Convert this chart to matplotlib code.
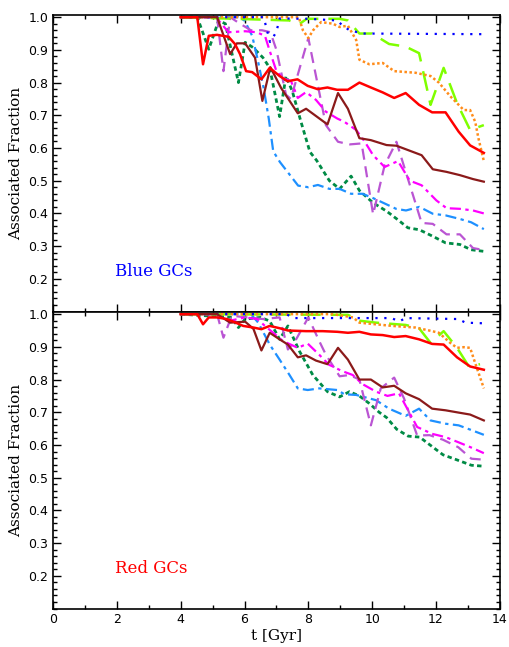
import numpy as np
import matplotlib.pyplot as plt
from matplotlib.ticker import MultipleLocator

# ---- blue GCs (top panel) ----
t_red_b = [4.0, 4.52, 4.7, 4.88, 5.14, 5.5, 5.7, 5.86, 6.05, 6.24, 6.53, 6.79, 7.1, 7.35, 7.66, 7.98, 8.29, 8.6, 8.9, 9.24, 9.6, 9.96, 10.33, 10.69, 11.05, 11.47, 11.88, 12.3, 12.71, 13.07, 13.5]
f_red_b = [1.0, 1.0, 0.856, 0.943, 0.946, 0.94, 0.918, 0.887, 0.835, 0.832, 0.81, 0.845, 0.82, 0.804, 0.81, 0.79, 0.78, 0.785, 0.778, 0.778, 0.80, 0.785, 0.77, 0.753, 0.768, 0.732, 0.709, 0.709, 0.65, 0.608, 0.585]

t_brown_b = [4.0, 5.14, 5.55, 5.76, 6.02, 6.33, 6.56, 6.81, 7.15, 7.67, 7.93, 8.6, 8.93, 9.24, 9.6, 9.96, 10.45, 10.76, 11.55, 11.9, 12.33, 12.75, 13.16, 13.5]
f_brown_b = [1.0, 1.0, 0.887, 0.92, 0.92, 0.876, 0.744, 0.847, 0.783, 0.706, 0.72, 0.672, 0.768, 0.72, 0.63, 0.624, 0.609, 0.607, 0.578, 0.535, 0.527, 0.517, 0.505, 0.497]

t_blue_b = [4.0, 6.6, 6.8, 7.0, 7.1, 8.0, 8.9, 9.08, 9.29, 9.7, 13.5]
f_blue_b = [1.0, 1.0, 0.924, 0.955, 0.996, 0.995, 0.99, 0.974, 0.96, 0.95, 0.948]

t_orange_b = [4.0, 7.7, 7.83, 8.0, 8.15, 8.4, 8.77, 8.98, 9.24, 9.5, 9.6, 9.91, 10.33, 10.69, 11.36, 11.83, 12.09, 12.45, 12.87, 13.07, 13.23, 13.33, 13.5]
f_orange_b = [1.0, 1.0, 0.96, 0.936, 0.96, 0.985, 0.98, 0.97, 0.974, 0.93, 0.87, 0.856, 0.86, 0.835, 0.83, 0.82, 0.80, 0.758, 0.716, 0.716, 0.68, 0.63, 0.56]

t_green_b = [4.0, 7.4, 7.72, 7.95, 8.5, 8.98, 9.24, 9.6, 10.0, 10.53, 11.05, 11.47, 11.83, 12.24, 12.66, 13.07, 13.5]
f_green_b = [1.0, 0.99, 0.979, 0.995, 0.995, 0.995, 0.99, 0.95, 0.95, 0.918, 0.91, 0.89, 0.732, 0.845, 0.737, 0.655, 0.67]

t_magenta_b = [4.0, 5.1, 5.5, 6.02, 6.38, 6.64, 6.79, 7.0, 7.2, 7.46, 7.67, 7.93, 8.24, 8.55, 8.91, 9.13, 9.5, 9.77, 10.03, 10.39, 10.81, 11.18, 11.55, 12.01, 12.33, 12.75, 13.16, 13.5]
f_magenta_b = [1.0, 1.0, 0.954, 0.957, 0.954, 0.943, 0.897, 0.835, 0.814, 0.804, 0.753, 0.771, 0.747, 0.711, 0.69, 0.68, 0.655, 0.619, 0.578, 0.542, 0.56, 0.5, 0.486, 0.44, 0.416, 0.414, 0.409, 0.40]

t_orchid_b = [4.0, 5.14, 5.34, 5.55, 5.86, 6.2, 6.55, 6.81, 7.0, 7.3, 7.45, 8.0, 8.55, 8.93, 9.3, 9.67, 10.03, 10.39, 10.76, 11.55, 11.9, 12.33, 12.75, 13.16, 13.5]
f_orchid_b = [1.0, 1.0, 0.835, 1.0, 0.98, 0.96, 0.96, 0.954, 0.90, 0.763, 0.75, 0.936, 0.67, 0.619, 0.611, 0.614, 0.397, 0.547, 0.619, 0.371, 0.368, 0.336, 0.336, 0.294, 0.288]

t_dodger_b = [4.0, 5.8, 6.0, 6.24, 6.4, 6.6, 6.76, 6.9, 7.11, 7.68, 8.0, 8.3, 8.66, 8.98, 9.34, 9.7, 10.07, 10.75, 11.06, 11.48, 11.9, 12.3, 12.75, 13.1, 13.5]
f_dodger_b = [1.0, 1.0, 0.99, 0.943, 0.876, 0.783, 0.69, 0.59, 0.557, 0.485, 0.48, 0.487, 0.475, 0.475, 0.46, 0.46, 0.445, 0.414, 0.409, 0.42, 0.399, 0.394, 0.383, 0.373, 0.352]

t_sea_b = [4.0, 4.52, 4.88, 5.19, 5.4, 5.81, 6.02, 6.27, 6.58, 6.79, 7.1, 7.3, 7.5, 7.77, 8.05, 8.26, 8.66, 8.98, 9.34, 9.6, 10.02, 10.45, 10.8, 11.12, 11.48, 11.9, 12.3, 12.75, 13.1, 13.5]
f_sea_b = [1.0, 1.0, 0.902, 0.99, 0.98, 0.80, 0.923, 0.907, 0.876, 0.845, 0.696, 0.82, 0.773, 0.68, 0.588, 0.562, 0.50, 0.475, 0.514, 0.47, 0.433, 0.407, 0.381, 0.356, 0.35, 0.33, 0.31, 0.305, 0.289, 0.284]

# ---- red GCs (bottom panel) ----
t_red_r = [4.0, 4.52, 4.7, 4.88, 5.14, 5.45, 5.7, 5.96, 6.28, 6.53, 6.79, 7.1, 7.36, 7.93, 8.45, 8.91, 9.24, 9.6, 9.96, 10.33, 10.69, 11.05, 11.47, 11.88, 12.24, 12.66, 13.07, 13.5]
f_red_r = [1.0, 1.0, 0.969, 0.99, 0.99, 0.985, 0.975, 0.964, 0.959, 0.954, 0.964, 0.957, 0.95, 0.948, 0.948, 0.946, 0.943, 0.946, 0.938, 0.936, 0.93, 0.933, 0.923, 0.909, 0.907, 0.868, 0.84, 0.83]

t_brown_r = [4.0, 5.14, 5.55, 6.02, 6.28, 6.53, 6.79, 7.1, 7.36, 7.67, 7.93, 8.24, 8.6, 8.93, 9.24, 9.6, 9.96, 10.33, 10.69, 11.05, 11.47, 11.88, 12.3, 12.71, 13.07, 13.5]
f_brown_r = [1.0, 1.0, 0.974, 0.977, 0.955, 0.889, 0.943, 0.923, 0.907, 0.868, 0.874, 0.858, 0.847, 0.897, 0.861, 0.8, 0.8, 0.776, 0.781, 0.758, 0.74, 0.711, 0.706, 0.699, 0.693, 0.675]

t_blue_r = [4.0, 7.3, 7.57, 8.98, 10.6, 10.85, 11.05, 12.71, 12.92, 13.5]
f_blue_r = [1.0, 1.0, 0.988, 0.988, 0.988, 0.978, 0.988, 0.985, 0.974, 0.972]

t_orange_r = [4.0, 8.77, 9.4, 9.6, 10.0, 10.64, 11.36, 11.88, 12.09, 12.45, 12.66, 12.87, 13.07, 13.23, 13.5]
f_orange_r = [1.0, 1.0, 0.99, 0.974, 0.97, 0.964, 0.959, 0.948, 0.943, 0.912, 0.897, 0.899, 0.897, 0.85, 0.773]

t_green_r = [4.0, 9.24, 9.6, 10.12, 11.05, 11.47, 11.83, 12.24, 12.66, 13.03, 13.38]
f_green_r = [1.0, 0.998, 0.98, 0.974, 0.967, 0.957, 0.912, 0.948, 0.897, 0.84, 0.847]

t_magenta_r = [4.0, 5.1, 5.5, 6.02, 6.4, 6.64, 6.9, 7.2, 7.67, 7.98, 8.34, 8.65, 8.77, 9.03, 9.39, 9.7, 10.12, 10.48, 10.84, 11.1, 11.41, 11.88, 12.3, 12.71, 13.11, 13.5]
f_magenta_r = [1.0, 1.0, 0.979, 0.99, 0.985, 0.964, 0.943, 0.918, 0.897, 0.91, 0.876, 0.845, 0.84, 0.827, 0.814, 0.786, 0.763, 0.75, 0.758, 0.711, 0.655, 0.634, 0.624, 0.608, 0.592, 0.575]

t_orchid_r = [4.0, 5.14, 5.34, 5.6, 6.58, 7.1, 7.36, 7.6, 8.0, 8.34, 8.55, 8.98, 9.29, 9.6, 9.96, 10.27, 10.69, 11.0, 11.41, 11.8, 12.22, 12.7, 13.11, 13.5]
f_orchid_r = [1.0, 1.0, 0.928, 0.995, 0.985, 0.99, 0.892, 0.92, 0.99, 0.918, 0.876, 0.81, 0.814, 0.8, 0.66, 0.773, 0.806, 0.742, 0.629, 0.63, 0.616, 0.593, 0.558, 0.555]

t_dodger_r = [4.0, 6.2, 6.43, 6.79, 7.1, 7.41, 7.67, 7.98, 8.34, 8.91, 9.13, 9.5, 10.12, 10.53, 11.05, 11.47, 11.83, 12.3, 12.71, 13.07, 13.5]
f_dodger_r = [1.0, 1.0, 0.974, 0.907, 0.861, 0.814, 0.773, 0.768, 0.773, 0.768, 0.755, 0.753, 0.737, 0.711, 0.689, 0.711, 0.675, 0.665, 0.66, 0.647, 0.631]

t_sea_r = [4.0, 5.6, 5.81, 6.02, 6.5, 6.79, 7.1, 7.36, 7.72, 8.14, 8.6, 8.98, 9.29, 9.6, 9.91, 10.22, 10.45, 10.77, 11.13, 11.49, 11.8, 12.22, 12.64, 13.11, 13.5]
f_sea_r = [1.0, 0.99, 0.959, 0.985, 0.99, 0.979, 0.923, 0.964, 0.887, 0.814, 0.763, 0.747, 0.763, 0.75, 0.727, 0.70, 0.684, 0.648, 0.627, 0.624, 0.601, 0.57, 0.555, 0.538, 0.535]

# colour and line style for each series
styles = {
    'sea':     ('#008B45', (0, (1.6, 1.2)), 2.0),
    'dodger':  ('#1E90FF', (0, (5, 2, 1.5, 2)), 1.6),
    'orchid':  ('#BA55D3', (0, (5, 3)), 1.6),
    'magenta': ('#FF00FF', (0, (5, 2, 1.5, 2)), 1.6),
    'green':   ('#7FFF00', (0, (8, 4)), 1.8),
    'orange':  ('#FF8C1A', (0, (1, 1)), 1.8),
    'blue':    ('#0000FF', (0, (1, 3)), 1.6),
    'brown':   ('#8B1A1A', '-', 1.6),
    'red':     ('#FF0000', '-', 1.8),
}

blue_panel = {
    'sea': (t_sea_b, f_sea_b), 'dodger': (t_dodger_b, f_dodger_b),
    'orchid': (t_orchid_b, f_orchid_b), 'magenta': (t_magenta_b, f_magenta_b),
    'green': (t_green_b, f_green_b), 'orange': (t_orange_b, f_orange_b),
    'blue': (t_blue_b, f_blue_b), 'brown': (t_brown_b, f_brown_b),
    'red': (t_red_b, f_red_b),
}
red_panel = {
    'sea': (t_sea_r, f_sea_r), 'dodger': (t_dodger_r, f_dodger_r),
    'orchid': (t_orchid_r, f_orchid_r), 'magenta': (t_magenta_r, f_magenta_r),
    'green': (t_green_r, f_green_r), 'orange': (t_orange_r, f_orange_r),
    'blue': (t_blue_r, f_blue_r), 'brown': (t_brown_r, f_brown_r),
    'red': (t_red_r, f_red_r),
}

fig = plt.figure(figsize=(5.1, 6.47), dpi=100)
ax1 = fig.add_axes([0.104, 0.5185, 0.876, 0.459])
ax2 = fig.add_axes([0.104, 0.0595, 0.876, 0.459])

serif = 'DejaVu Serif'

for ax, panel, label, lcol in [(ax1, blue_panel, 'Blue GCs', 'blue'),
                               (ax2, red_panel, 'Red GCs', 'red')]:
    for name, (t, f) in panel.items():
        col, ls, lw = styles[name]
        ax.plot(t, f, color=col, linestyle=ls, linewidth=lw)
    ax.set_xlim(0, 14)
    ax.set_ylim(0.1, 1.008)
    ax.xaxis.set_major_locator(MultipleLocator(2))
    ax.xaxis.set_minor_locator(MultipleLocator(1))
    ax.yaxis.set_major_locator(MultipleLocator(0.1))
    ax.yaxis.set_minor_locator(MultipleLocator(0.02))
    ax.tick_params(which='both', direction='in', top=True, right=True, width=1.0)
    ax.tick_params(which='major', length=6)
    ax.tick_params(which='minor', length=3)
    ax.set_yticks([0.2, 0.3, 0.4, 0.5, 0.6, 0.7, 0.8, 0.9, 1.0])
    ax.set_yticklabels(['0.2', '0.3', '0.4', '0.5', '0.6', '0.7', '0.8', '0.9', '1.0'], fontsize=9)
    ax.set_ylabel('Associated Fraction', family=serif, fontsize=11)
    for s in ax.spines.values():
        s.set_linewidth(1.2)
    ax.text(1.95, 0.222, label, color=lcol, family=serif, fontsize=12, va='center')

ax1.tick_params(labelbottom=False)
ax2.set_xticks([0, 2, 4, 6, 8, 10, 12, 14])
ax2.set_xticklabels(['0', '2', '4', '6', '8', '10', '12', '14'], fontsize=9)
ax2.set_xlabel('t [Gyr]', family=serif, fontsize=11, labelpad=2)

fig.savefig('out.png', dpi=100)
